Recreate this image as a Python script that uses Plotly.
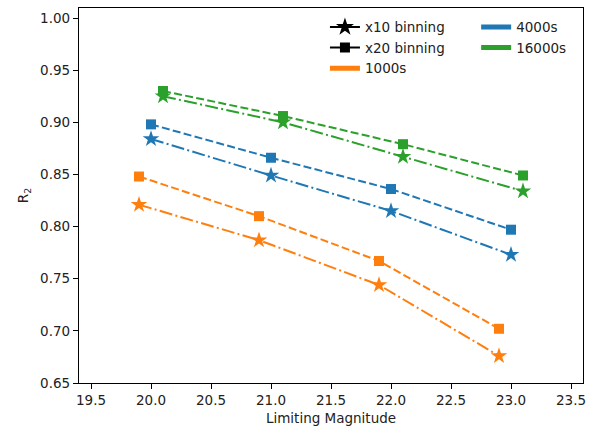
import plotly.graph_objects as go

# Limiting magnitude at which each exposure set was evaluated
mag_1000 = [19.9, 20.9, 21.9, 22.9]
mag_4000 = [20.0, 21.0, 22.0, 23.0]
mag_16000 = [20.1, 21.1, 22.1, 23.1]

# R2 scores, x10 binning
r2_x10_1000 = [0.821, 0.787, 0.744, 0.676]
r2_x10_4000 = [0.884, 0.849, 0.815, 0.773]
r2_x10_16000 = [0.925, 0.900, 0.867, 0.834]

# R2 scores, x20 binning
r2_x20_1000 = [0.848, 0.810, 0.767, 0.702]
r2_x20_4000 = [0.898, 0.866, 0.836, 0.797]
r2_x20_16000 = [0.930, 0.906, 0.879, 0.849]

BLUE, ORANGE, GREEN = "#1f77b4", "#ff7f0e", "#2ca02c"
FONT = "DejaVu Sans"
DASH = "8px,3.3px"
DASHDOT = "13px,3.3px,2px,3.3px"
STAR_SIZE, SQUARE_SIZE = 12.5, 10

series = [
    (mag_1000, r2_x20_1000, ORANGE, "square", DASH),
    (mag_1000, r2_x10_1000, ORANGE, "star", DASHDOT),
    (mag_4000, r2_x20_4000, BLUE, "square", DASH),
    (mag_4000, r2_x10_4000, BLUE, "star", DASHDOT),
    (mag_16000, r2_x20_16000, GREEN, "square", DASH),
    (mag_16000, r2_x10_16000, GREEN, "star", DASHDOT),
]

fig = go.Figure()
for x, y, color, symbol, dash in series:
    fig.add_trace(go.Scatter(
        x=x, y=y, mode="lines+markers", showlegend=False,
        line=dict(color=color, width=2, dash=dash),
        marker=dict(symbol=symbol, color=color,
                    size=STAR_SIZE if symbol == "star" else SQUARE_SIZE,
                    line=dict(width=0)),
    ))

# Legend-only entries
def legend_entry(name, legend, **kw):
    fig.add_trace(go.Scatter(x=[None], y=[None], name=name, legend=legend, **kw))

legend_entry("x10 binning", "legend", mode="lines+markers",
             line=dict(color="black", width=2),
             marker=dict(symbol="star", color="black", size=STAR_SIZE + 1))
legend_entry("x20 binning", "legend", mode="lines+markers",
             line=dict(color="black", width=2),
             marker=dict(symbol="square", color="black", size=SQUARE_SIZE))
legend_entry("1000s", "legend", mode="lines", line=dict(color=ORANGE, width=5))
legend_entry("4000s", "legend2", mode="lines", line=dict(color=BLUE, width=5))
legend_entry("16000s", "legend2", mode="lines", line=dict(color=GREEN, width=5))

axis_common = dict(
    showline=True, linecolor="black", linewidth=1.3, mirror=True,
    ticks="outside", ticklen=5, tickwidth=1.3, tickcolor="black",
    showgrid=False, zeroline=False, automargin=False,
    tickfont=dict(family=FONT, size=13.5, color="#222"),
)

legend_style = dict(
    bgcolor="rgba(0,0,0,0)", borderwidth=0,
    font=dict(family=FONT, size=13.5, color="#222"),
    xanchor="left", yanchor="top", tracegroupgap=0,
)

fig.update_layout(
    width=601, height=429,
    margin=dict(l=79, r=18, t=8, b=45.5),
    plot_bgcolor="white", paper_bgcolor="white",
    font=dict(family=FONT, color="#222"),
    xaxis=dict(range=[19.4, 23.6], tickvals=[19.5, 20.0, 20.5, 21.0, 21.5, 22.0, 22.5, 23.0, 23.5],
               ticktext=["19.5", "20.0", "20.5", "21.0", "21.5", "22.0", "22.5", "23.0", "23.5"],
               title=dict(text="Limiting Magnitude", font=dict(family=FONT, size=13.5), standoff=6),
               **axis_common),
    yaxis=dict(range=[0.65, 1.0096], tickvals=[0.65, 0.70, 0.75, 0.80, 0.85, 0.90, 0.95, 1.00],
               ticktext=["0.65", "0.70", "0.75", "0.80", "0.85", "0.90", "0.95", "1.00"],
               title=dict(text="R<sub>2</sub>", font=dict(family=FONT, size=13.5), standoff=8),
               **axis_common),
    legend=dict(x=0.488, y=0.99, **legend_style),
    legend2=dict(x=0.788, y=0.99, **legend_style),
)

fig.write_html("out.html")
